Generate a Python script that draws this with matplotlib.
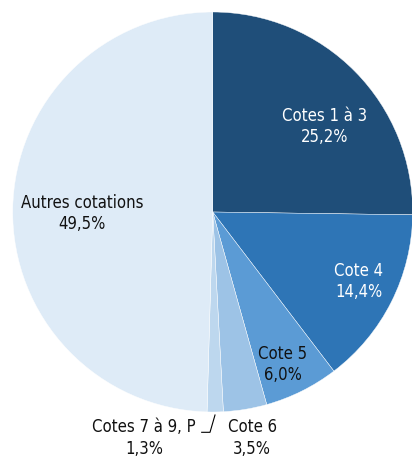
import matplotlib
matplotlib.use("Agg")
import matplotlib.pyplot as plt

categories = ["Cotes 1 à 3", "Cote 4", "Cote 5", "Cote 6", "Cotes 7 à 9, P", "Autres cotations"]
values = [25.2, 14.4, 6.0, 3.5, 1.3, 49.5]
value_labels = ["25,2%", "14,4%", "6,0%", "3,5%", "1,3%", "49,5%"]
colors = ["#1F4E79", "#2E75B6", "#5B9BD5", "#9DC3E6", "#BDD7EE", "#DEEBF7"]
text_colors = ["white", "white", "#111111", "#111111", "#111111", "#111111"]

W, H = 412, 458
cx, cy = 212.7, 212.0   # pie centre in pixels from top-left
R = 200.0

fig = plt.figure(figsize=(W / 100, H / 100), dpi=100)
ax = fig.add_axes([0, 0, 1, 1])

ax.pie(values, colors=colors, startangle=90, counterclock=False, radius=R,
       wedgeprops=dict(edgecolor="white", linewidth=0.3), frame=True)
ax.set_xlim(-cx, W - cx)
ax.set_ylim(-(H - cy), cy)
ax.set_aspect("equal")
ax.axis("off")

# label positions (pixels from top-left of image)
label_pos = [(325, 126.5), (359, 281.5), (283, 364.5), (252, 438), (144, 438), (82, 213.5)]

for cat, vl, (px, py), tc in zip(categories, value_labels, label_pos, text_colors):
    ax.text(px - cx, cy - py, f"{cat}\n{vl}", ha="center", va="center",
            color=tc, fontsize=12, family="DejaVu Sans", stretch="condensed",
            linespacing=1.22)

# leader line for small slice
lx = [201.7, 210.0, 215.0]
ly = [432.3, 432.3, 415.0]
ax.plot([x - cx for x in lx], [cy - y for y in ly], color="black", lw=0.8)

fig.savefig("out.png", dpi=100)
